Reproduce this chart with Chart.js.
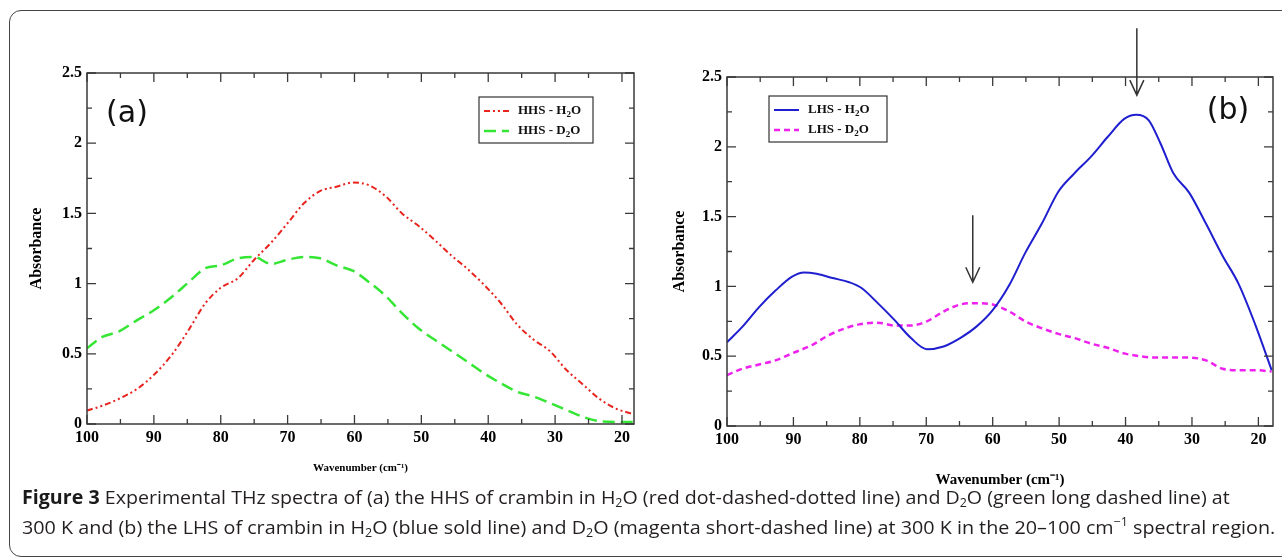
<!DOCTYPE html>
<html lang="en">
<head>
    <meta charset="UTF-8">
    <title>Figure 3 - THz spectra of crambin</title>
    <script src="https://cdnjs.cloudflare.com/ajax/libs/Chart.js/4.4.1/chart.umd.min.js"></script>
    <style>
        body {
            margin: 0;
            width: 1282px;
            height: 559px;
            overflow: hidden;
            background: white;
            position: relative;
        }
        .frame {
            position: absolute;
            left: 9px;
            top: 10px;
            width: 1300px;
            height: 545px;
            border: 1.5px solid #444;
            border-radius: 12px;
        }
        canvas {
            position: absolute;
            top: 0;
        }
        #chartA { left: 0; }
        #chartB { left: 641px; }
        .cap {
            position: absolute;
            left: 22px;
            white-space: nowrap;
            font-family: "Open Sans", sans-serif;
            font-size: 19px;
            line-height: 19px;
            color: #231f20;
            transform-origin: left top;
        }
        .cap b { color: #1a1a1a; }
        .cap sub { font-size: 12px; vertical-align: -3px; line-height: 0; }
        .cap sup { font-size: 12px; vertical-align: 8px; line-height: 0; }
        #cap1 { top: 488px; }
        #cap2 { top: 518px; }
    </style>
</head>
<body>

    <div class="frame"></div>

    <canvas id="chartA" width="641" height="490"></canvas>
    <canvas id="chartB" width="641" height="490"></canvas>

    <!-- Caption -->
    <div class="cap" id="cap1"><b>Figure 3</b> Experimental THz spectra of (a) the HHS of crambin in H<sub>2</sub>O (red dot-dashed-dotted line) and D<sub>2</sub>O (green long dashed line) at</div>
    <div class="cap" id="cap2">300 K and (b) the LHS of crambin in H<sub>2</sub>O (blue sold line) and D<sub>2</sub>O (magenta short-dashed line) at 300 K in the 20–100 cm<sup>−1</sup> spectral region.</div>

    <script>
        // Panel (a): HHS
        const waveA  = [100, 97.7, 95.2, 92.5, 90, 87.2, 84.8, 82.3, 80, 77.4, 75, 72.5, 70, 67.6, 65.1, 62.7, 60.2, 57.8, 55.3, 52.9, 50.4, 48, 45.5, 43, 40.6, 38.1, 35.7, 33.2, 30.8, 28.3, 25.8, 23.4, 20.9, 18.3];
        const hhsH2O = [0.095, 0.13, 0.18, 0.25, 0.35, 0.50, 0.67, 0.86, 0.97, 1.04, 1.17, 1.29, 1.43, 1.57, 1.66, 1.69, 1.72, 1.70, 1.62, 1.50, 1.41, 1.31, 1.20, 1.10, 0.99, 0.86, 0.71, 0.60, 0.52, 0.385, 0.28, 0.18, 0.11, 0.07];
        const hhsD2O = [0.54, 0.62, 0.66, 0.74, 0.81, 0.91, 1.01, 1.11, 1.13, 1.18, 1.19, 1.14, 1.17, 1.19, 1.18, 1.13, 1.09, 1.01, 0.91, 0.79, 0.68, 0.60, 0.52, 0.44, 0.36, 0.29, 0.23, 0.195, 0.15, 0.10, 0.05, 0.02, 0.015, 0.015];

        // Panel (b): LHS
        const waveB  = [100, 97.7, 95.2, 92.7, 90.2, 88.4, 86.5, 84.1, 81.6, 79.8, 77.3, 74.8, 72.3, 69.9, 67.4, 64.9, 62.5, 60, 57.5, 55.1, 52.6, 50.1, 47.7, 45.2, 42.7, 40.2, 38.4, 36.5, 34.7, 32.8, 30.4, 27.9, 25.4, 23, 20.5, 18];
        const lhsH2O = [0.60, 0.71, 0.85, 0.97, 1.07, 1.10, 1.09, 1.06, 1.03, 0.99, 0.88, 0.76, 0.63, 0.55, 0.57, 0.63, 0.71, 0.83, 1.01, 1.24, 1.45, 1.68, 1.81, 1.93, 2.07, 2.20, 2.23, 2.19, 2.02, 1.81, 1.67, 1.45, 1.22, 1.02, 0.73, 0.40];
        const waveBD = [100, 97.7, 95.2, 92.7, 90.2, 87.2, 84.7, 82.2, 79.8, 77.3, 74.8, 72.3, 69.9, 67.4, 64.9, 62.5, 60, 57.5, 55.1, 52.6, 50.1, 47.7, 45.2, 42.7, 40.2, 37.8, 35.3, 32.8, 30.4, 27.9, 25.4, 23, 20.5, 18];
        const lhsD2O = [0.365, 0.41, 0.44, 0.47, 0.52, 0.58, 0.65, 0.70, 0.73, 0.74, 0.72, 0.72, 0.75, 0.82, 0.87, 0.88, 0.87, 0.82, 0.75, 0.70, 0.66, 0.63, 0.59, 0.56, 0.52, 0.50, 0.49, 0.49, 0.49, 0.47, 0.41, 0.40, 0.40, 0.39];

        // Ticks
        const xTickValues  = [100, 90, 80, 70, 60, 50, 40, 30, 20];
        const xMinorValues = [95, 85, 75, 65, 55, 45, 35, 25];
        const yTickValues  = [0, 0.5, 1, 1.5, 2, 2.5];
        const yMinorValues = [0.25, 0.75, 1.25, 1.75, 2.25];

        // Arrows in panel (b): x position, start and end absorbance
        const arrowsB = [
            { x: 38.3, from: 2.85, to: 2.37 },
            { x: 63.0, from: 1.51, to: 1.03 }
        ];

        const serif = "'Liberation Serif', 'Times New Roman', serif";

        function pts(xs, ys) {
            return xs.map((x, i) => ({ x: x, y: ys[i] }));
        }

        // draws the boxed frame, inward ticks, legend box, panel tag and arrows
        const decor = {
            id: 'decor',
            afterDraw(chart, args, opts) {
                const { ctx, chartArea: a, scales: { x, y } } = chart;
                ctx.save();

                ctx.strokeStyle = '#3a3a3a';
                ctx.lineWidth = 1.5;
                ctx.strokeRect(a.left, a.top, a.right - a.left, a.bottom - a.top);

                ctx.beginPath();
                const tickX = (v, len) => {
                    const px = x.getPixelForValue(v);
                    ctx.moveTo(px, a.bottom); ctx.lineTo(px, a.bottom - len);
                    ctx.moveTo(px, a.top); ctx.lineTo(px, a.top + len);
                };
                const tickY = (v, len) => {
                    const py = y.getPixelForValue(v);
                    ctx.moveTo(a.left, py); ctx.lineTo(a.left + len, py);
                    ctx.moveTo(a.right, py); ctx.lineTo(a.right - len, py);
                };
                xTickValues.forEach(v => tickX(v, 9));
                xMinorValues.forEach(v => tickX(v, 5));
                yTickValues.forEach(v => tickY(v, 9));
                yMinorValues.forEach(v => tickY(v, 5));
                ctx.lineWidth = 1.3;
                ctx.stroke();

                // legend
                const L = opts.legend;
                ctx.lineWidth = 1.2;
                ctx.strokeStyle = '#333';
                ctx.strokeRect(L.x, L.y, L.w, L.h);
                chart.data.datasets.forEach((ds, i) => {
                    const ly = L.y + 14 + i * 20;
                    ctx.beginPath();
                    ctx.strokeStyle = ds.borderColor;
                    ctx.lineWidth = ds.borderWidth;
                    ctx.setLineDash(ds.borderDash || []);
                    ctx.moveTo(L.x + 5, ly);
                    ctx.lineTo(L.x + 30, ly);
                    ctx.stroke();
                    ctx.setLineDash([]);

                    // text with subscript 2
                    const parts = ds.label.split('₂');
                    let tx = L.x + 39;
                    ctx.fillStyle = '#111';
                    ctx.textBaseline = 'middle';
                    ctx.textAlign = 'left';
                    ctx.font = 'bold 13px ' + serif;
                    ctx.fillText(parts[0], tx, ly);
                    tx += ctx.measureText(parts[0]).width;
                    ctx.font = 'bold 9px ' + serif;
                    ctx.fillText('2', tx, ly + 4);
                    tx += ctx.measureText('2').width;
                    ctx.font = 'bold 13px ' + serif;
                    ctx.fillText(parts[1], tx, ly);
                });

                // panel tag
                ctx.fillStyle = '#111';
                ctx.font = "30px 'DejaVu Sans', sans-serif";
                ctx.textAlign = 'center';
                ctx.textBaseline = 'middle';
                ctx.fillText(opts.tag.text, opts.tag.x, opts.tag.y);

                // arrows
                (opts.arrows || []).forEach(ar => {
                    const px = x.getPixelForValue(ar.x);
                    const y0 = y.getPixelForValue(ar.from);
                    const y1 = y.getPixelForValue(ar.to);
                    ctx.beginPath();
                    ctx.strokeStyle = '#333';
                    ctx.lineWidth = 1.5;
                    ctx.moveTo(px, y0); ctx.lineTo(px, y1);
                    ctx.moveTo(px - 7, y1 - 15); ctx.lineTo(px, y1); ctx.lineTo(px + 7, y1 - 15);
                    ctx.stroke();
                });

                ctx.restore();
            }
        };

        function makeChart(id, cfg) {
            return new Chart(document.getElementById(id).getContext('2d'), {
                type: 'line',
                data: { datasets: cfg.datasets },
                plugins: [decor],
                options: {
                    responsive: false,
                    animation: false,
                    layout: { padding: { top: cfg.top, right: cfg.right, bottom: 0, left: 0 } },
                    elements: {
                        point: { radius: 0 },
                        line: { cubicInterpolationMode: 'monotone', fill: false }
                    },
                    plugins: {
                        legend: { display: false },
                        tooltip: { enabled: false },
                        decor: { legend: cfg.legend, tag: cfg.tag, arrows: cfg.arrows }
                    },
                    scales: {
                        x: {
                            type: 'linear',
                            reverse: true,
                            min: cfg.xMin,
                            max: 100,
                            afterBuildTicks: s => { s.ticks = xTickValues.map(v => ({ value: v })); },
                            afterFit: s => { s.height = cfg.xH; },
                            grid: { display: false, drawTicks: false },
                            border: { display: false },
                            ticks: {
                                padding: 4, color: '#000', maxRotation: 0, autoSkip: false,
                                font: { family: serif, weight: 'bold', size: 16 }
                            },
                            title: {
                                display: true,
                                text: 'Wavenumber (cm⁻¹)',
                                color: '#000',
                                font: { family: serif, weight: 'bold', size: cfg.xTitleSize },
                                padding: { top: 0, bottom: cfg.xTitlePad }
                            }
                        },
                        y: {
                            min: 0,
                            max: 2.5,
                            afterBuildTicks: s => { s.ticks = yTickValues.map(v => ({ value: v })); },
                            afterFit: s => { s.width = cfg.yW; },
                            grid: { display: false, drawTicks: false },
                            border: { display: false },
                            ticks: {
                                padding: 5, color: '#000',
                                callback: v => String(v),
                                font: { family: serif, weight: 'bold', size: 16 }
                            },
                            title: {
                                display: true,
                                text: 'Absorbance',
                                color: '#000',
                                font: { family: serif, weight: 'bold', size: 16 },
                                padding: { top: cfg.yTitlePad, bottom: 0 }
                            }
                        }
                    }
                }
            });
        }

        // Panel (a)
        makeChart('chartA', {
            top: 73, right: 7, xH: 66, yW: 87, xMin: 18.2,
            xTitleSize: 11, xTitlePad: 15, yTitlePad: 27,
            legend: { x: 479, y: 97, w: 114, h: 46 },
            tag: { text: '(a)', x: 127, y: 114 },
            datasets: [
                { label: 'HHS - H₂O', data: pts(waveA, hhsH2O), borderColor: '#e8241f', borderWidth: 2, borderDash: [6, 3, 2, 3, 2, 3] },
                { label: 'HHS - D₂O', data: pts(waveA, hhsD2O), borderColor: '#35e635', borderWidth: 2.5, borderDash: [12, 6] }
            ]
        });

        // Panel (b)
        makeChart('chartB', {
            top: 77, right: 9, xH: 64, yW: 86, xMin: 17.8,
            xTitleSize: 15, xTitlePad: 1, yTitlePad: 29,
            legend: { x: 128, y: 96, w: 118, h: 46 },
            tag: { text: '(b)', x: 587, y: 111 },
            arrows: arrowsB,
            datasets: [
                { label: 'LHS - H₂O', data: pts(waveB, lhsH2O), borderColor: '#1f1fd0', borderWidth: 2 },
                { label: 'LHS - D₂O', data: pts(waveBD, lhsD2O), borderColor: '#ee22ee', borderWidth: 2.5, borderDash: [6, 4] }
            ]
        });

        // Fit caption lines to their widths in the figure
        [['cap1', 1208], ['cap2', 1253]].forEach(([id, target]) => {
            const el = document.getElementById(id);
            el.style.transform = 'scaleX(' + (target / el.offsetWidth) + ')';
        });
    </script>

</body>
</html>
